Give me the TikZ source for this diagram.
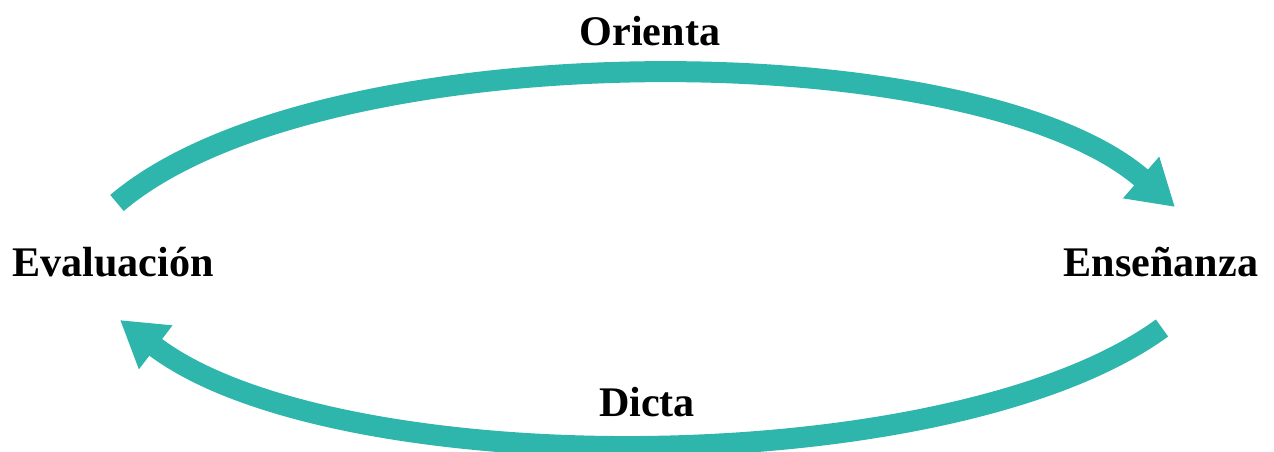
\documentclass[tikz,border=0pt]{standalone}
\usepackage{fontspec}
\setmainfont{Liberation Serif}
\usepackage{tikz}
\usetikzlibrary{arrows.meta,calc}
\definecolor{tealcyc}{RGB}{46,182,172}

\begin{document}
\begin{tikzpicture}[x=0.02cm,y=-0.02cm,
          lbl/.style={inner sep=0pt,font=\fontsize{24}{28}\selectfont\bfseries},
          flow/.style={draw=tealcyc,line width=0.42cm,
                       -{Triangle[length=0.9cm,width=1.04cm]}}]
        \useasboundingbox (0,0) rectangle (1274,452);
        \node[lbl] (eval) at (113,262) {Evaluación};
        \node[lbl] (ens) at (1161,262) {Enseñanza};
        \node[lbl] (ori) at (650,31) {Orienta};
        \node[lbl] (dic) at (647,402) {Dicta};
        \draw[flow] ($(eval)+(4,-59)$) .. controls +(201,-171) and +(-201,-175) .. ($(ens)+(14,-55)$);
        \draw[flow] ($(ens)+(1,66)$) .. controls +(-213,155) and +(213,163) .. ($(eval)+(7,58)$);
      \end{tikzpicture}
\end{document}
